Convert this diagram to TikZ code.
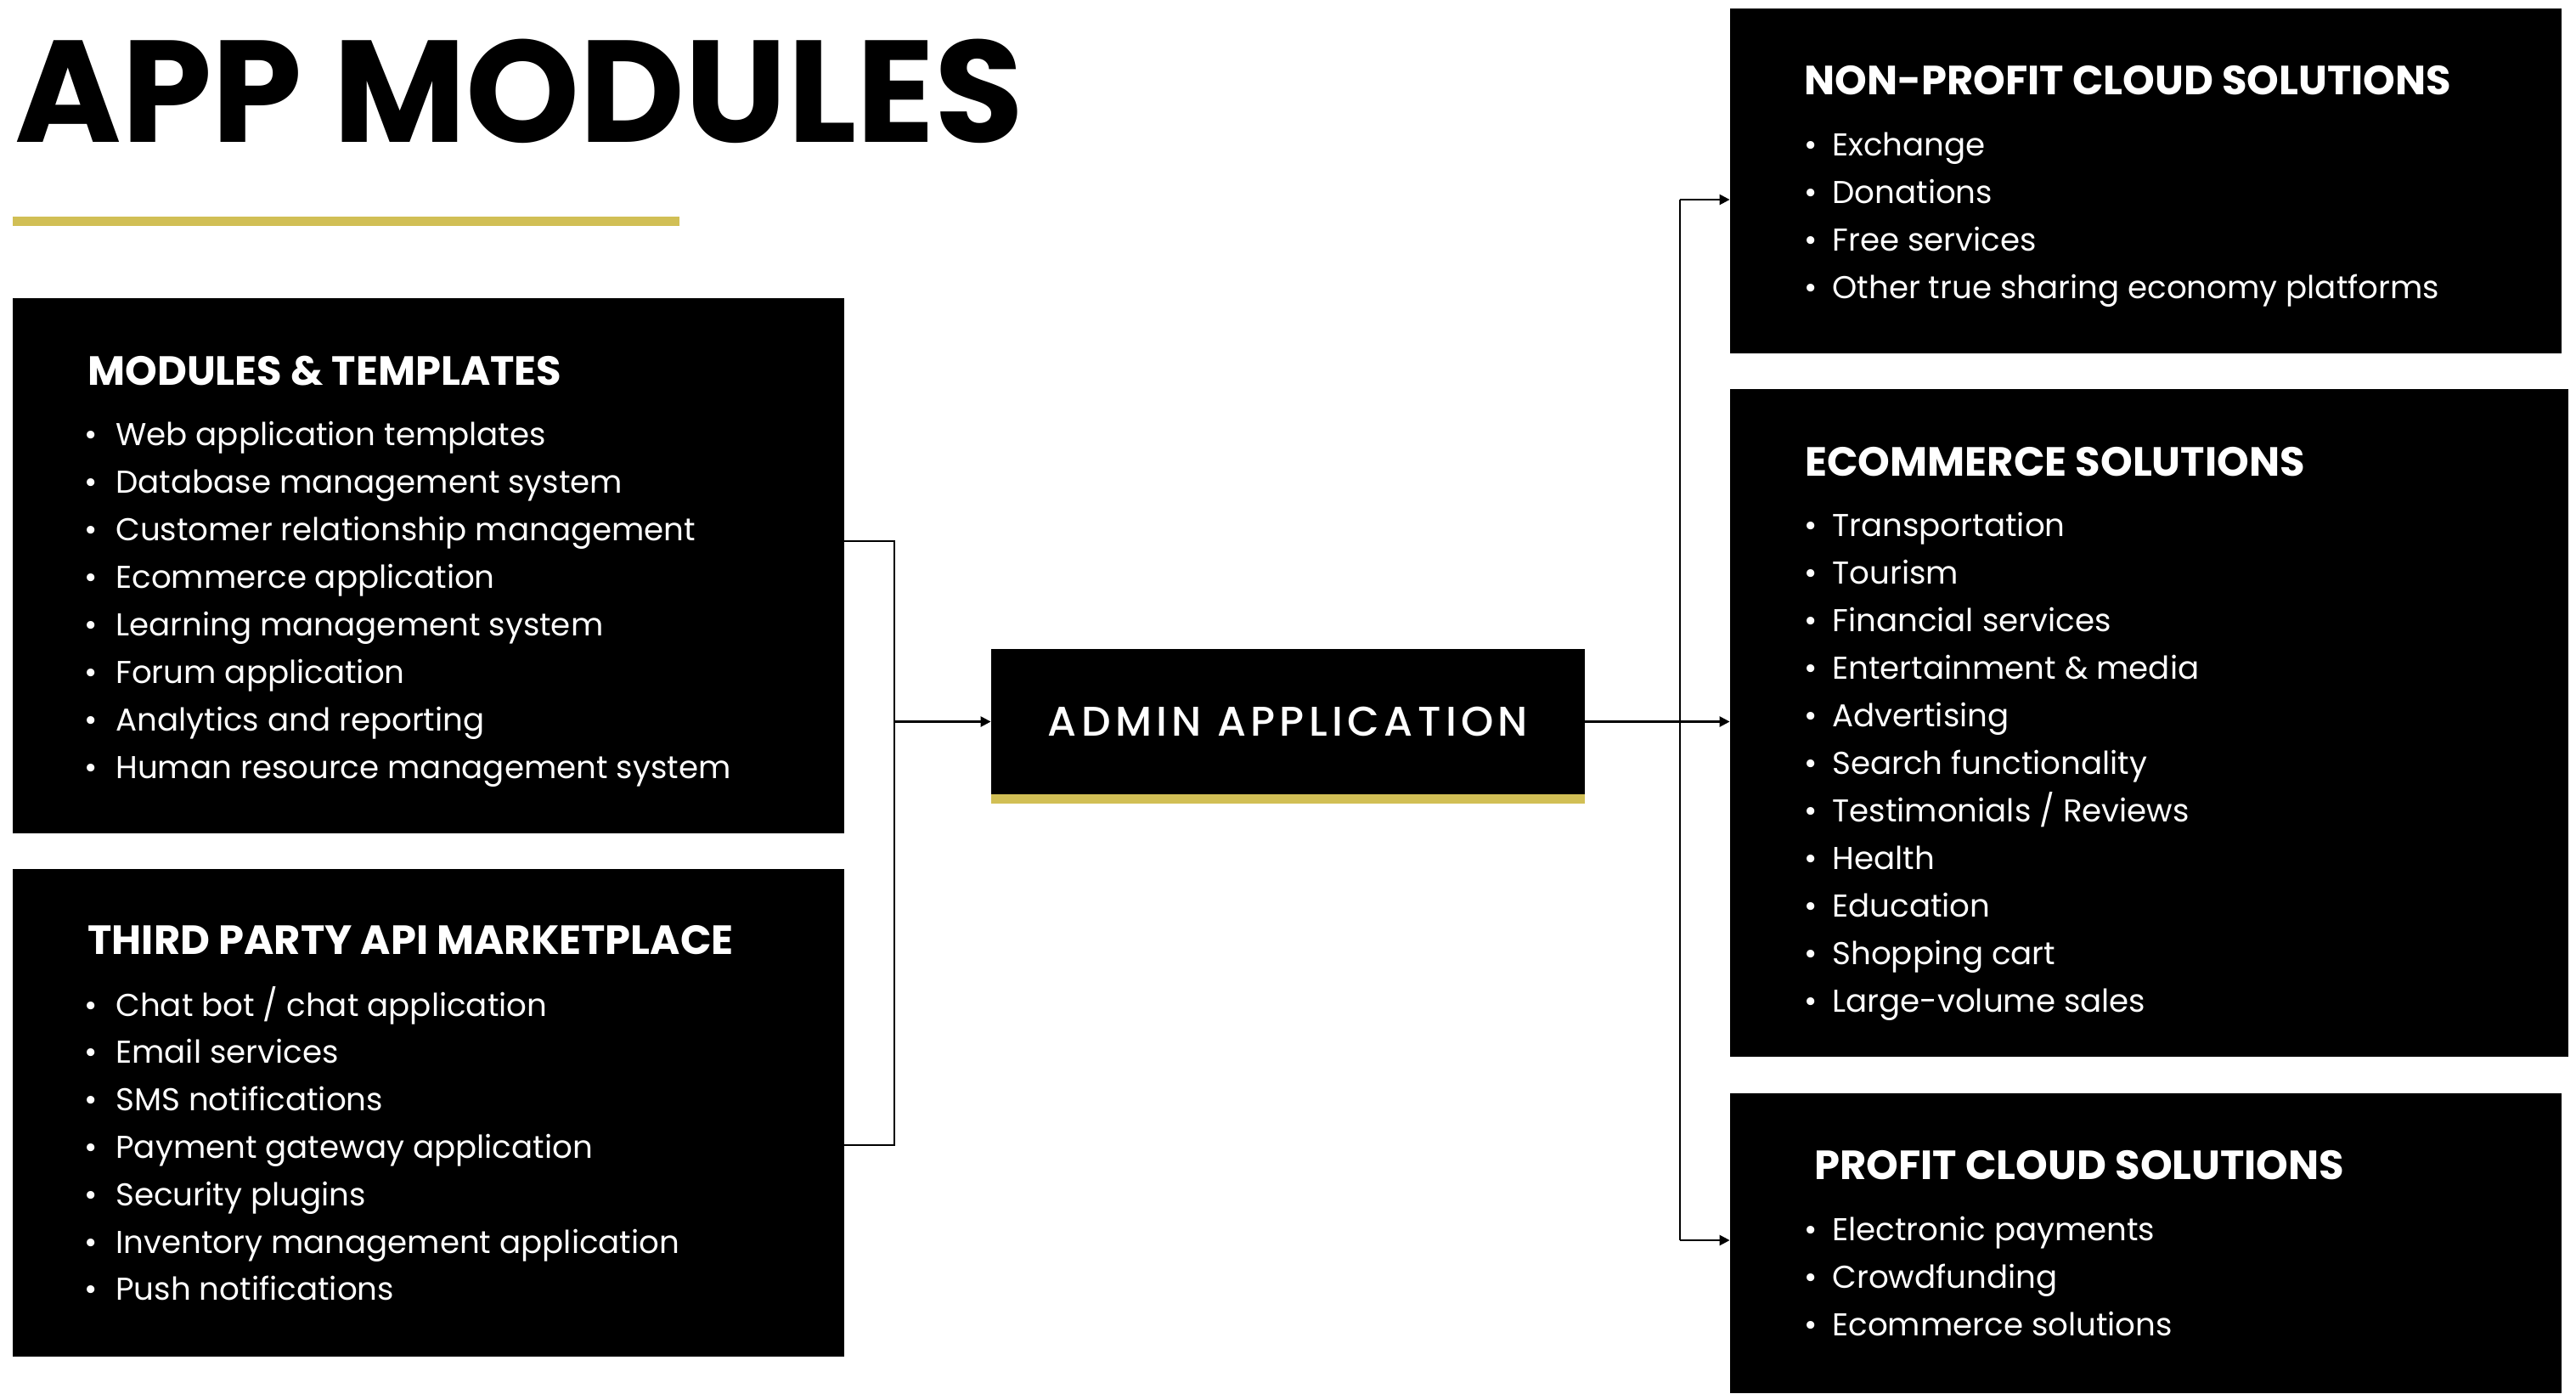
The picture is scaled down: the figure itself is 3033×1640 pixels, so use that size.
\documentclass[tikz,border=0pt]{standalone}
\usepackage{fontspec}
\setmainfont{Poppins}
\newfontfamily\admfont{Poppins Medium}[LetterSpace=11]
\usetikzlibrary{fit,arrows.meta}
\definecolor{gold}{RGB}{209,191,85}
\newcommand\headfont{\bfseries\fontsize{24}{28}\selectfont}
\newcommand\itemfont{\fontsize{18.6}{22}\selectfont}
\begin{document}
\begin{tikzpicture}[x=0.5pt,y=-0.5pt]
\tikzset{
  box/.style={fill=black, inner sep=0pt, draw=none},
  goldbar/.style={fill=gold, inner sep=0pt, draw=none},
  head/.style={anchor=base west, inner sep=0pt, text=white, font=\headfont},
  item/.style={anchor=base west, inner sep=0pt, text=white, font=\itemfont},
  conn/.style={line width=1.2pt, draw=black},
  arr/.style={conn, -{Triangle[length=6pt,width=6pt]}},
}
\useasboundingbox (0,0) rectangle (3033,1640);

% title
\node[anchor=base west, inner sep=0pt, font=\bfseries\fontsize{85.3}{90}\selectfont] (title) at (17,167) {APP MODULES};
\node[goldbar, fit={(15,255)(800,266)}] (bar) {};

% boxes
\node[box, fit={(15,351)(994,981)}] (b1) {};
\node[box, fit={(15,1023)(994,1597)}] (b2) {};
\node[box, fit={(1167,764)(1866,935)}] (admin) {};
\node[goldbar, fit={(1167,935)(1866,946)}] (adminbar) {};
\node[box, fit={(2037,10)(3016,416)}] (np) {};
\node[box, fit={(2037,458)(3024,1244)}] (eco) {};
\node[box, fit={(2037,1287)(3016,1640)}] (prof) {};

% admin label
\node[inner sep=0pt, text=white, font=\admfont\fontsize{24.4}{28}\selectfont] (admtxt) at (admin.center) {ADMIN APPLICATION};

% headings
\node[head] (h1) at (103,453) {MODULES \& TEMPLATES};
\node[head] (h2) at (103,1123) {THIRD PARTY API MARKETPLACE};
\node[head] (h3) at (2124,111) {NON-PROFIT CLOUD SOLUTIONS};
\node[head] (h4) at (2125,560) {ECOMMERCE SOLUTIONS};
\node[head] (h5) at (2136,1388) {PROFIT CLOUD SOLUTIONS};

% items
\foreach \t [count=\i from 0] in {Web application templates, Database management system, Customer relationship management, Ecommerce application, Learning management system, Forum application, Analytics and reporting, Human resource management system}
  {\node[item] (mt\i) at (99,{524+56*\i}) {\makebox[18.5pt][l]{\textbullet}\t};}
\foreach \t [count=\i from 0] in {Chat bot / chat application, Email services, SMS notifications, Payment gateway application, Security plugins, Inventory management application, Push notifications}
  {\node[item] (tp\i) at (99,{1196+55.8*\i}) {\makebox[18.5pt][l]{\textbullet}\t};}
\foreach \t [count=\i from 0] in {Exchange, Donations, Free services, Other true sharing economy platforms}
  {\node[item] (np\i) at (2124,{183+56*\i}) {\makebox[16.5pt][l]{\textbullet}\t};}
\foreach \t [count=\i from 0] in {Transportation, Tourism, Financial services, Entertainment \& media, Advertising, Search functionality, Testimonials / Reviews, Health, Education, Shopping cart, Large-volume sales}
  {\node[item] (ec\i) at (2124,{631+56*\i}) {\makebox[16.5pt][l]{\textbullet}\t};}
\foreach \t [count=\i from 0] in {Electronic payments, Crowdfunding, Ecommerce solutions}
  {\node[item] (pc\i) at (2124,{1460+56*\i}) {\makebox[16.5pt][l]{\textbullet}\t};}

% connectors left
\coordinate (j1) at (1053,637);
\coordinate (j2) at (1053,1348);
\draw[conn] (b1.east |- j1) -- (j1) -- (j2) -- (b2.east |- j2);
\draw[arr] (j1 |- admin.west) -- (admin.west);

% connectors right
\coordinate (k1) at (1978,235);
\coordinate (k2) at (1978,1460);
\draw[arr] (admin.east) -- (eco.west |- admin.east);
\draw[conn] (k1) -- (k2);
\draw[arr] (k1) -- (np.west |- k1);
\draw[arr] (k2) -- (prof.west |- k2);
\end{tikzpicture}
\end{document}
